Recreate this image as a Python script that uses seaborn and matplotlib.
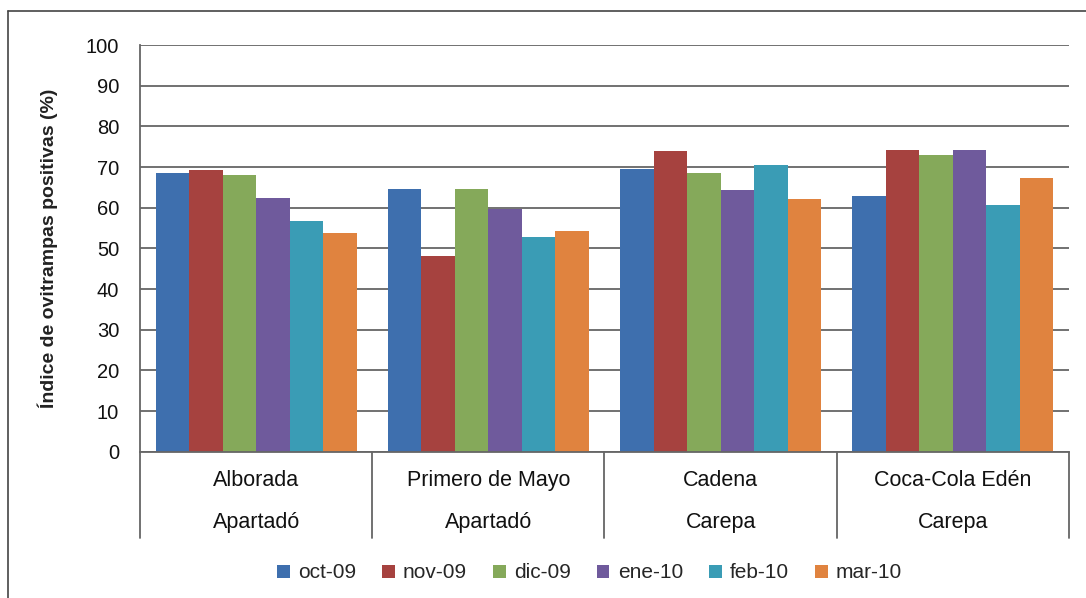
import matplotlib
matplotlib.use("Agg")
import matplotlib.pyplot as plt
from matplotlib.lines import Line2D
import seaborn as sns
import pandas as pd

# Sites (neighbourhood, municipality) and monthly ovitrap positivity (%)
barrios = ["Alborada", "Primero de Mayo", "Cadena", "Coca-Cola Edén"]
municipios = ["Apartadó", "Apartadó", "Carepa", "Carepa"]
meses = ["oct-09", "nov-09", "dic-09", "ene-10", "feb-10", "mar-10"]

oct_09 = [68.6, 64.5, 69.6, 62.9]
nov_09 = [69.2, 48.0, 73.9, 74.1]
dic_09 = [68.0, 64.5, 68.5, 73.0]
ene_10 = [62.4, 59.7, 64.3, 74.1]
feb_10 = [56.8, 52.9, 70.6, 60.7]
mar_10 = [53.7, 54.3, 62.1, 67.4]

series = [oct_09, nov_09, dic_09, ene_10, feb_10, mar_10]
colores = ["#3E6FAE", "#A6423F", "#85A95A", "#6F5A9C", "#3A9CB5", "#E0833F"]

rows = []
for mes, vals in zip(meses, series):
    for b, v in zip(barrios, vals):
        rows.append({"barrio": b, "mes": mes, "valor": v})
df = pd.DataFrame(rows)

sns.set_theme(style="white")
plt.rcParams["font.family"] = ["Liberation Sans", "DejaVu Sans"]

fig = plt.figure(figsize=(10.86, 5.98), dpi=100)
ax = fig.add_axes([0.1289, 0.2447, 0.8554, 0.68])

sns.barplot(data=df, x="barrio", y="valor", hue="mes", order=barrios,
            hue_order=meses, palette=colores, width=0.866, linewidth=0,
            saturation=1, ax=ax, legend=True)

ax.set_ylim(0, 100)
ax.set_xlim(-0.5, len(barrios) - 0.5)
ax.set_yticks(range(0, 101, 10))
ax.yaxis.grid(True, color="#666666", linewidth=1.3)
ax.set_axisbelow(True)
ax.tick_params(axis="y", length=0, pad=15, labelsize=14.5, colors="#111111")
ax.tick_params(axis="x", length=0, labelbottom=False)
ax.set_xlabel("")
ax.set_ylabel("Índice de ovitrampas positivas (%)", fontsize=14,
              fontweight="bold", color="#222222", labelpad=20)

for side in ["top", "right"]:
    ax.spines[side].set_visible(False)
for side in ["left", "bottom"]:
    ax.spines[side].set_color("#666666")
    ax.spines[side].set_linewidth(1.3)

# Two-level category axis: site name, municipality, and separators
trans = ax.get_xaxis_transform()
for i, (b, m) in enumerate(zip(barrios, municipios)):
    ax.text(i, -0.07, b, transform=trans, ha="center", va="center",
            fontsize=15.5, color="#111111")
    ax.text(i, -0.173, m, transform=trans, ha="center", va="center",
            fontsize=15.5, color="#111111")
for k in range(len(barrios) + 1):
    ax.plot([k - 0.5, k - 0.5], [0, -0.212], transform=trans,
            color="#666666", linewidth=1.3, clip_on=False)

# Legend below the chart
handles, labels = ax.get_legend_handles_labels()
ax.get_legend().remove()
fig.legend(handles, labels, loc="center", bbox_to_anchor=(0.543, 1 - 573 / 598),
           ncol=6, frameon=False, fontsize=15, handlelength=0.6,
           handleheight=0.6, handletextpad=0.4, columnspacing=1.25)

# Chart frame edges
fig.add_artist(Line2D([8 / 1086, 8 / 1086], [0, 1 - 11 / 598],
                      transform=fig.transFigure, color="#444444", linewidth=1.2))
fig.add_artist(Line2D([8 / 1086, 1], [1 - 11 / 598, 1 - 11 / 598],
                      transform=fig.transFigure, color="#444444", linewidth=1.2))

fig.savefig("out.png", dpi=100)
